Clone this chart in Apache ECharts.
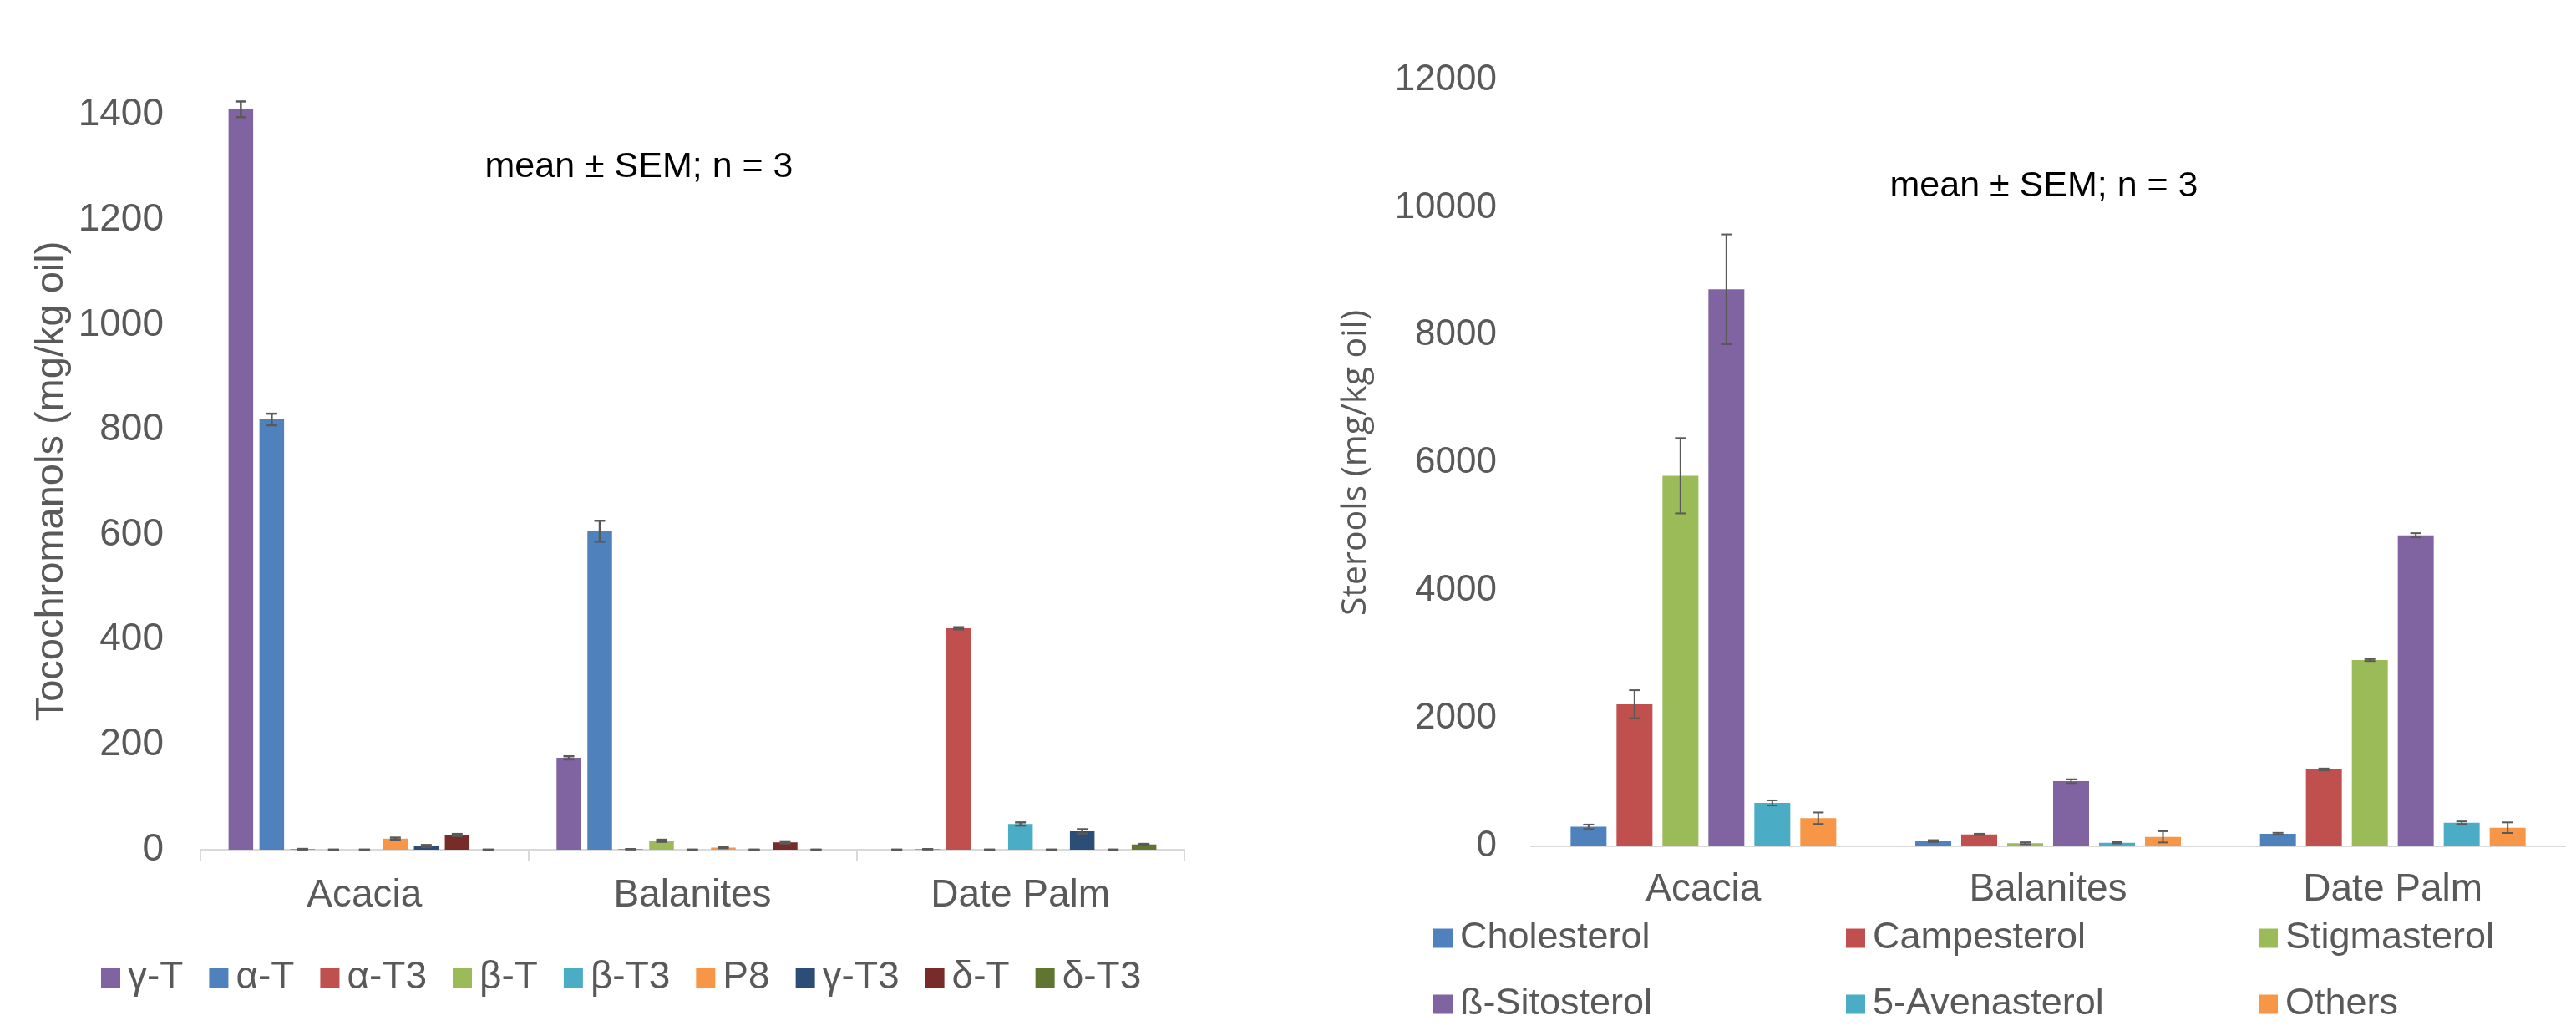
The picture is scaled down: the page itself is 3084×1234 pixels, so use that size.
<!DOCTYPE html>
<html>
<head>
<meta charset="utf-8">
<script src="https://cdn.jsdelivr.net/npm/echarts@6/dist/echarts.min.js"></script>
<style>
  html, body { margin: 0; padding: 0; background: #fff; }
  #chart { width: 3084px; height: 1234px; }
</style>
</head>
<body>
<div id="chart"></div>
<script>
// Oil sources (x categories, shared by both panels)
const regions = ['Acacia', 'Balanites', 'Date Palm'];

// Tocochromanols (mg/kg oil), one value per compound
const tocoNames = ['γ-T', 'α-T', 'α-T3', 'β-T', 'β-T3', 'P8', 'γ-T3', 'δ-T', 'δ-T3'];
const tocoColors = ['#8064A2', '#4F81BD', '#C0504D', '#9BBB59', '#4BACC6', '#F79646', '#2C4D75', '#772C2A', '#5F7530'];
const acaciaToco    = [1411, 820, 1, 0, 0, 21, 7, 28, 0];
const balanitesToco = [175, 607, 1, 17, 0, 4, 0, 14, 0];
const datePalmToco  = [0, 1, 422, 0, 49, 0, 35, 0, 10];
const acaciaTocoSem    = [15, 11, 0.5, 0, 0, 2, 2, 2, 0];
const balanitesTocoSem = [3, 20, 0, 2, 0, 1, 0, 2, 0];
const datePalmTocoSem  = [0, 0, 2, 0, 3, 0, 4, 0, 1];

// Sterols (mg/kg oil)
const sterolNames = ['Cholesterol', 'Campesterol', 'Stigmasterol', 'ß-Sitosterol', '5-Avenasterol', 'Others'];
const sterolColors = ['#4F81BD', '#C0504D', '#9BBB59', '#8064A2', '#4BACC6', '#F79646'];
const acaciaSterol    = [300, 2220, 5800, 8720, 674, 434];
const balanitesSterol = [76, 181, 42, 1014, 50, 142];
const datePalmSterol  = [190, 1198, 2912, 4867, 364, 286];
const acaciaSterolSem    = [35, 220, 590, 860, 40, 90];
const balanitesSterolSem = [15, 10, 15, 30, 10, 88];
const datePalmSterolSem  = [15, 15, 15, 33, 20, 83];

const FONT = "'Liberation Sans', Arial, sans-serif";
const GREY = '#595959';

const tocoByRegion = [acaciaToco, balanitesToco, datePalmToco];
const tocoSemByRegion = [acaciaTocoSem, balanitesTocoSem, datePalmTocoSem];
const sterolByRegion = [acaciaSterol, balanitesSterol, datePalmSterol];
const sterolSemByRegion = [acaciaSterolSem, balanitesSterolSem, datePalmSterolSem];

// bar geometry per panel
const TOCO_BW = 29.5, TOCO_GAP = 7.5;
const STER_BW = 43, STER_GAP = 12;

const plainNumber = v => String(v);

function barSeries(names, colors, byRegion, axisIdx, bw, gap) {
  return names.map((name, i) => ({
    type: 'bar',
    name: name,
    xAxisIndex: axisIdx,
    yAxisIndex: axisIdx,
    data: byRegion.map(r => r[i]),
    barWidth: bw,
    barGap: (gap / bw * 100).toFixed(1) + '%',
    itemStyle: { color: colors[i] },
    emphasis: { disabled: true },
    silent: true
  }));
}

function errorSeries(names, byRegion, semByRegion, axisIdx, bw, gap, lw) {
  const n = names.length;
  const data = [];
  byRegion.forEach((vals, r) => {
    vals.forEach((v, s) => data.push([r, v, semByRegion[r][s], s]));
  });
  return {
    type: 'custom',
    xAxisIndex: axisIdx,
    yAxisIndex: axisIdx,
    silent: true,
    z: 10,
    encode: { x: 0, y: 1 },
    data: data,
    renderItem: function (params, api) {
      const cat = api.value(0), m = api.value(1), e = api.value(2), s = api.value(3);
      const c = api.coord([cat, m]);
      const hi = api.coord([cat, m + e]);
      const lo = api.coord([cat, m - e]);
      const total = n * bw + (n - 1) * gap;
      const x = c[0] - total / 2 + s * (bw + gap) + bw / 2;
      const half = 6.5;
      const style = { stroke: GREY, lineWidth: lw };
      return {
        type: 'group',
        children: [
          { type: 'line', shape: { x1: x, y1: hi[1], x2: x, y2: lo[1] }, style: style },
          { type: 'line', shape: { x1: x - half, y1: hi[1], x2: x + half, y2: hi[1] }, style: style },
          { type: 'line', shape: { x1: x - half, y1: lo[1], x2: x + half, y2: lo[1] }, style: style }
        ]
      };
    }
  };
}

const chart = echarts.init(document.getElementById('chart'), null, { renderer: 'canvas' });

const option = {
  backgroundColor: '#ffffff',
  animation: false,
  textStyle: { fontFamily: FONT },
  grid: [
    { left: 240, top: 75, width: 1178, height: 942, containLabel: false },
    { left: 1833, top: 95.7, width: 1238, height: 916.8, containLabel: false }
  ],
  xAxis: [
    {
      type: 'category', gridIndex: 0, data: regions,
      axisLine: { lineStyle: { color: '#d9d9d9', width: 2 } },
      axisTick: { show: true, length: 13, lineStyle: { color: '#d9d9d9', width: 2 } },
      axisLabel: { color: GREY, fontSize: 46, fontFamily: FONT, margin: 32, lineHeight: 46 }
    },
    {
      type: 'category', gridIndex: 1, data: regions,
      axisLine: { lineStyle: { color: '#d9d9d9', width: 2 } },
      axisTick: { show: false },
      axisLabel: { color: GREY, fontSize: 46, fontFamily: FONT, margin: 30, lineHeight: 46 }
    }
  ],
  yAxis: [
    {
      type: 'value', gridIndex: 0, min: 0, max: 1500, interval: 200,
      axisLine: { show: false }, axisTick: { show: false }, splitLine: { show: false },
      axisLabel: { color: GREY, fontSize: 46, fontFamily: FONT, margin: 44, showMaxLabel: false, formatter: plainNumber }
    },
    {
      type: 'value', gridIndex: 1, min: 0, max: 12000, interval: 2000,
      axisLine: { show: false }, axisTick: { show: false }, splitLine: { show: false },
      axisLabel: { color: GREY, fontSize: 44, fontFamily: FONT, margin: 41, formatter: plainNumber }
    }
  ],
  legend: [
    {
      data: tocoNames,
      left: 121, top: 1145.5, padding: 0,
      orient: 'horizontal',
      itemWidth: 23, itemHeight: 23, itemGap: 31,
      icon: 'rect', selectedMode: false,
      textStyle: { color: GREY, fontSize: 46, fontFamily: FONT, lineHeight: 50, padding: [0, 0, 0, 4] }
    },
    {
      data: sterolNames,
      left: 1716, top: 1083.5, padding: 0, width: 1500,
      orient: 'horizontal',
      itemWidth: 23, itemHeight: 23, itemGap: 0,
      icon: 'rect', selectedMode: false,
      textStyle: { color: GREY, fontSize: 45, fontFamily: FONT, lineHeight: 79, width: 462, padding: [0, 0, 0, 4] }
    }
  ],
  graphic: [
    {
      type: 'text', x: 62, y: 576, rotation: Math.PI / 2,
      style: { text: 'Tocochromanols (mg/kg oil)', fill: GREY, fontSize: 47, fontFamily: FONT,
               align: 'center', verticalAlign: 'middle', textAlign: 'center', textVerticalAlign: 'middle' }
    },
    {
      type: 'text', x: 1623, y: 554, rotation: Math.PI / 2,
      style: { text: 'Sterools (mg/kg oil)', fill: GREY, fontSize: 41, fontFamily: "'Open Sans', sans-serif",
               align: 'center', verticalAlign: 'middle', textAlign: 'center', textVerticalAlign: 'middle' }
    },
    {
      type: 'text', x: 765, y: 200,
      style: { text: 'mean ± SEM; n = 3', fill: '#000', fontSize: 43, fontFamily: FONT,
               align: 'center', verticalAlign: 'middle', textAlign: 'center', textVerticalAlign: 'middle' }
    },
    {
      type: 'text', x: 2447, y: 223,
      style: { text: 'mean ± SEM; n = 3', fill: '#000', fontSize: 43, fontFamily: FONT,
               align: 'center', verticalAlign: 'middle', textAlign: 'center', textVerticalAlign: 'middle' }
    }
  ],
  series: [].concat(
    barSeries(tocoNames, tocoColors, tocoByRegion, 0, TOCO_BW, TOCO_GAP),
    [errorSeries(tocoNames, tocoByRegion, tocoSemByRegion, 0, TOCO_BW, TOCO_GAP, 2.5)],
    barSeries(sterolNames, sterolColors, sterolByRegion, 1, STER_BW, STER_GAP),
    [errorSeries(sterolNames, sterolByRegion, sterolSemByRegion, 1, STER_BW, STER_GAP, 2)]
  )
};

chart.setOption(option);
</script>
</body>
</html>
